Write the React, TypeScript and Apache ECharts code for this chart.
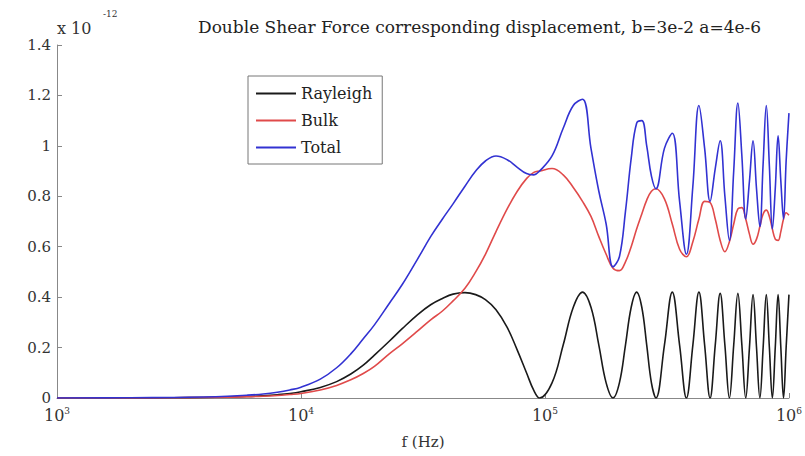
import { useEffect, useRef } from "react";
import * as echarts from "echarts";

const freqs = [
  1000, 2000, 3000, 4000, 5000, 6000, 7000, 8000, 9000, 10000, 12000, 14000, 16000, 18000, 20000, 23000, 26000, 30000,
  34000, 38000, 42000, 47000, 52000, 57000, 63000, 70000, 77000, 84000, 90000,
  95000, 106875, 118750, 130625, 142500, 154375, 166250, 178125, 190000, 201875, 213750, 225625, 237500, 249375,
  261250, 273125, 285000,
  308750, 332500, 356250, 380000, 403750, 427500, 451250, 475000, 498750, 522500, 546250, 570000, 593750, 617500,
  641250, 665000, 688750, 712500, 736250, 760000, 783750, 807500, 831250, 855000, 878750, 902500, 926250, 950000,
  973750, 1000000,
];

const rayleigh = [
  0, 0.0005, 0.001, 0.002, 0.004, 0.006, 0.009, 0.013, 0.018, 0.025, 0.042, 0.065, 0.095, 0.13, 0.17, 0.225, 0.275, 0.33,
  0.37, 0.395, 0.412, 0.418, 0.41, 0.39, 0.35, 0.28, 0.19, 0.1, 0.03,
  0, 0.06, 0.21, 0.36, 0.42, 0.36, 0.21, 0.06, 0, 0.06, 0.21, 0.36, 0.42, 0.36, 0.21, 0.06, 0,
  0.21, 0.42, 0.21, 0, 0.21, 0.42, 0.21, 0, 0.21, 0.415, 0.21, 0, 0.21, 0.415, 0.21, 0, 0.2, 0.41, 0.2, 0, 0.2, 0.41,
  0.2, 0, 0.2, 0.41, 0.2, 0, 0.2, 0.41,
];

const bulk = [
  0, 0.0005, 0.001, 0.002, 0.003, 0.005, 0.007, 0.01, 0.014, 0.018, 0.032, 0.05, 0.072, 0.097, 0.125, 0.175, 0.215,
  0.265, 0.31, 0.345, 0.385, 0.435, 0.5, 0.57, 0.66, 0.75, 0.82, 0.87, 0.895,
  0.9, 0.91, 0.885, 0.835, 0.78, 0.72, 0.64, 0.57, 0.515, 0.505, 0.54, 0.6, 0.67, 0.73, 0.785, 0.82, 0.83,
  0.79, 0.69, 0.59, 0.56, 0.62, 0.71, 0.78, 0.775, 0.71, 0.625, 0.58, 0.62, 0.69, 0.75, 0.755, 0.71, 0.65, 0.61, 0.63,
  0.68, 0.73, 0.745, 0.72, 0.67, 0.63, 0.625, 0.66, 0.71, 0.735, 0.725,
];

const total = [
  0, 0.001, 0.002, 0.004, 0.007, 0.011, 0.016, 0.023, 0.032, 0.043, 0.075, 0.12, 0.175, 0.235, 0.29, 0.375, 0.45, 0.55,
  0.64, 0.71, 0.77, 0.84, 0.9, 0.94, 0.96, 0.945, 0.915, 0.89, 0.885,
  0.9, 0.96, 1.07, 1.16, 1.185, 0.99, 0.82, 0.69, 0.52, 0.56, 0.74, 0.95, 1.09, 1.1, 1.0, 0.88, 0.83,
  0.99, 1.05, 0.78, 0.57, 0.84, 1.16, 0.99, 0.78, 0.91, 1.02, 0.8, 0.625, 0.9, 1.17, 0.96, 0.71, 0.86, 1.02, 0.83,
  0.68, 0.93, 1.16, 0.92, 0.67, 0.83, 1.04, 0.86, 0.71, 0.94, 1.13,
];

const seriesNames = ["Rayleigh", "Bulk", "Total"];
const seriesColors = ["#1a1a1a", "#e04a4a", "#3232d2"];
const titleText = "Double Shear Force corresponding displacement, b=3e-2 a=4e-6";

export default function App() {
  const ref = useRef<HTMLDivElement>(null);
  useEffect(() => {
    const chart = echarts.init(ref.current!, null, { renderer: "svg" });
    const font = "DejaVu Serif";
    const values = [rayleigh, bulk, total];
    chart.setOption({
      animation: false,
      backgroundColor: "#ffffff",
      title: {
        text: titleText,
        left: 193,
        top: 13,
        textStyle: { fontFamily: font, fontSize: 17, fontWeight: "normal", color: "#222" },
      },
      grid: { left: 57, right: 15, top: 45, bottom: 58 },
      legend: {
        orient: "vertical",
        left: 248,
        top: 76,
        icon: "rect",
        itemWidth: 40,
        itemHeight: 2,
        itemGap: 10,
        padding: [9, 10, 8, 8],
        borderColor: "#777",
        borderWidth: 1,
        backgroundColor: "#fff",
        textStyle: { fontFamily: font, fontSize: 16, color: "#222", lineHeight: 17 },
        data: seriesNames,
      },
      xAxis: {
        type: "log",
        logBase: 10,
        min: 1000,
        max: 1000000,
        axisLine: { lineStyle: { color: "#888", width: 1 } },
        axisTick: { inside: true, length: 5, lineStyle: { color: "#888" } },
        splitLine: { show: false },
        axisLabel: {
          margin: 8,
          fontFamily: font,
          fontSize: 16,
          color: "#333",
          formatter: (v: number) => `10{sup|${Math.round(Math.log10(v))}}`,
          rich: {
            sup: { fontFamily: font, fontSize: 9, color: "#333", verticalAlign: "top", padding: [0, 0, 10, 0] },
          },
        },
        name: "f (Hz)",
        nameLocation: "middle",
        nameGap: 36,
        nameTextStyle: { fontFamily: font, fontSize: 15, color: "#333" },
      },
      yAxis: {
        type: "value",
        min: 0,
        max: 1.4,
        interval: 0.2,
        axisLine: { show: true, lineStyle: { color: "#888", width: 1 } },
        axisTick: { show: true, inside: true, length: 5, lineStyle: { color: "#888" } },
        splitLine: { show: false },
        axisLabel: { margin: 6, fontFamily: font, fontSize: 15, color: "#333" },
      },
      graphic: [
        { type: "text", left: 57, top: 20, style: { text: "x 10", fontFamily: font, fontSize: 16, fill: "#333" } },
        { type: "text", left: 103, top: 9, style: { text: "-12", fontFamily: font, fontSize: 9, fill: "#333" } },
      ],
      series: seriesNames.map((name, k) => ({
        name,
        type: "line",
        symbol: "none",
        smooth: 0.4,
        lineStyle: { color: seriesColors[k], width: 1.6 },
        itemStyle: { color: seriesColors[k] },
        data: freqs.map((f, i) => [f, values[k][i]]),
      })),
    });
    return () => chart.dispose();
  }, []);
  return <div ref={ref} style={{ position: "fixed", left: 0, top: 0, width: 805, height: 456 }} />;
}
